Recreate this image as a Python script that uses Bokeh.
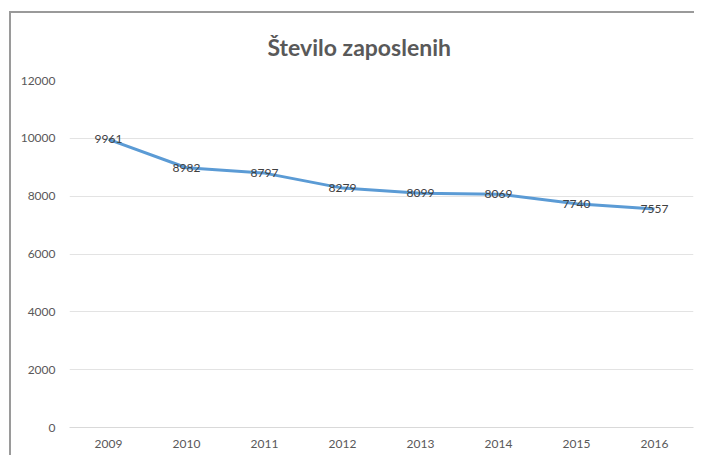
from bokeh.plotting import figure
from bokeh.models import ColumnDataSource, LabelSet, FixedTicker
from bokeh.embed import file_html
from bokeh.resources import INLINE
from bokeh.core.properties import value

years = ["2009", "2010", "2011", "2012", "2013", "2014", "2015", "2016"]
employees = [9961, 8982, 8797, 8279, 8099, 8069, 7740, 7557]
y_ticks = [0, 2000, 4000, 6000, 8000, 10000, 12000]
title_text = "Število zaposlenih"

src = ColumnDataSource(dict(x=years, y=employees, lbl=[str(v) for v in employees]))

p = figure(x_range=years, y_range=(0, 12000), width=694, height=455,
           output_backend="svg", toolbar_location=None,
           min_border_left=69, min_border_right=1, min_border_top=80, min_border_bottom=28)
p.styles = {"background-color": "white",
            "box-shadow": "inset 9px 11px 0 0 #ffffff, inset 11px 13px 0 0 #9a9a9a"}
p.x_range.range_padding = 0.0
p.outline_line_color = None
p.background_fill_color = "white"
p.border_fill_alpha = 0.0

p.title.text = title_text
p.title.align = "left"
p.title.text_font = "Lato"
p.title.text_font_size = "23px"
p.title.text_font_style = "bold"
p.title.text_color = "#595959"
p.title.offset = 198
p.title.standoff = 39

p.line("x", "y", source=src, line_color="#5b9bd5", line_width=3)

labels = LabelSet(x="x", y="y", text="lbl", source=src, text_align="center",
                  text_baseline="middle", text_font=value("Lato"),
                  text_font_size="12px", text_color="#404040")
p.add_layout(labels)

p.yaxis.ticker = FixedTicker(ticks=y_ticks)
p.yaxis.axis_line_color = None
p.yaxis.major_tick_line_color = None
p.yaxis.minor_tick_line_color = None
p.yaxis.major_label_text_font = "Lato"
p.yaxis.major_label_text_font_size = "12px"
p.yaxis.major_label_text_color = "#595959"
p.yaxis.major_label_standoff = 8

p.xaxis.axis_line_color = "#d9d9d9"
p.xaxis.major_tick_line_color = None
p.xaxis.major_label_text_font = "Lato"
p.xaxis.major_label_text_font_size = "12px"
p.xaxis.major_label_text_color = "#595959"
p.xaxis.major_label_standoff = 6

p.ygrid.grid_line_color = "#e3e3e3"
p.ygrid.grid_line_width = 1
p.xgrid.grid_line_color = None

open("out.html", "w").write(file_html(p, INLINE))
